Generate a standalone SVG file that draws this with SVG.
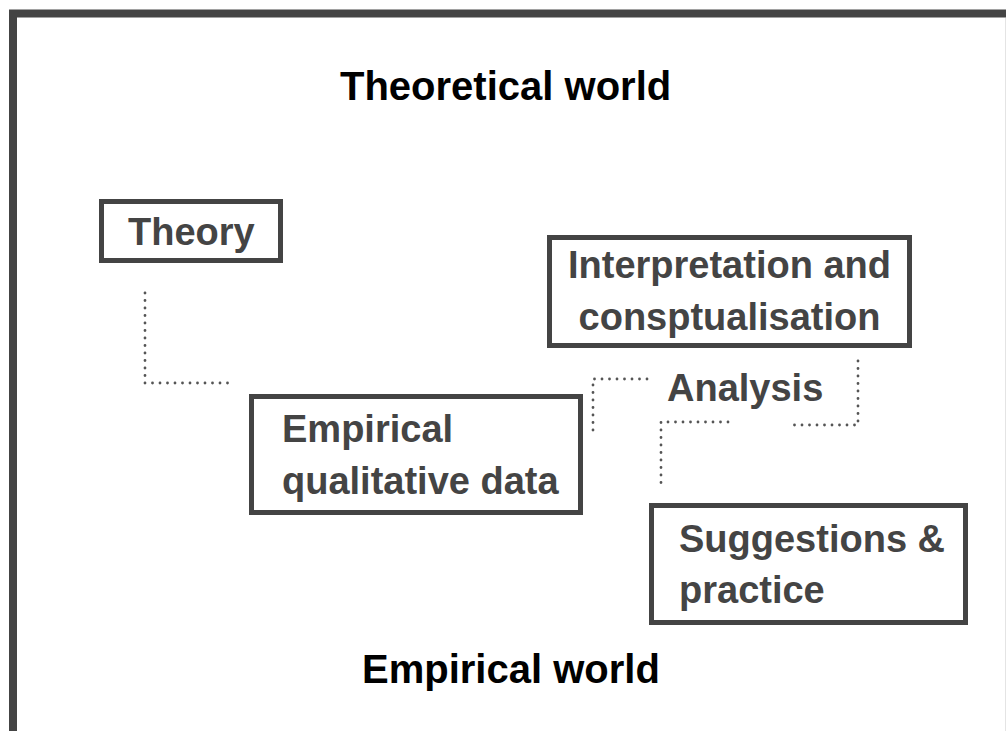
<svg xmlns="http://www.w3.org/2000/svg" width="1006" height="731" viewBox="0 0 1006 731">
<style>
.frame{fill:none;stroke:#444;stroke-width:8}
.box{fill:#fff;stroke:#444;stroke-width:5}
.t{font-family:"Liberation Sans",Arial,sans-serif;font-weight:bold;font-size:38px;fill:#444}
.m{text-anchor:middle}
.w{font-family:"Liberation Sans",Arial,sans-serif;font-weight:bold;font-size:40px;fill:#000}
.c{fill:none;stroke:#555;stroke-width:2.8;stroke-linecap:round;stroke-dasharray:0 7.5}
</style>
<rect width="1006" height="731" fill="#fff"/>
<rect class="frame" x="13" y="13.5" width="1010" height="740"/>
<line x1="1005.5" y1="18" x2="1005.5" y2="731" stroke="#e4e4e4" stroke-width="1"/>
<text class="w" x="340" y="100">Theoretical world</text>
<text class="w" x="362" y="683">Empirical world</text>
<g id="connectors">
<path class="c" d="M145,293 V383 H232"/>
<path class="c" d="M593,430 V379 H649"/>
<path class="c" d="M728,422 H661 V487"/>
<path class="c" d="M858,361 V425 H790"/>
</g>
<g id="theory">
<rect class="box" x="101.5" y="201.5" width="179" height="59"/>
<text class="t" x="128" y="245">Theory</text>
</g>
<g id="interpretation">
<rect class="box" x="549.5" y="237.5" width="360" height="108"/>
<text class="t m" x="729.5" y="278">Interpretation and</text>
<text class="t m" x="729.5" y="330">consptualisation</text>
</g>
<g id="analysis">
<text class="t" x="667" y="401">Analysis</text>
</g>
<g id="empirical">
<rect class="box" x="251.5" y="396.5" width="329" height="116"/>
<text class="t" x="282" y="442">Empirical</text>
<text class="t" x="282" y="494">qualitative data</text>
</g>
<g id="suggestions">
<rect class="box" x="651.5" y="505.5" width="314" height="117"/>
<text class="t" x="679" y="552">Suggestions &amp;</text>
<text class="t" x="679" y="603">practice</text>
</g>
</svg>
